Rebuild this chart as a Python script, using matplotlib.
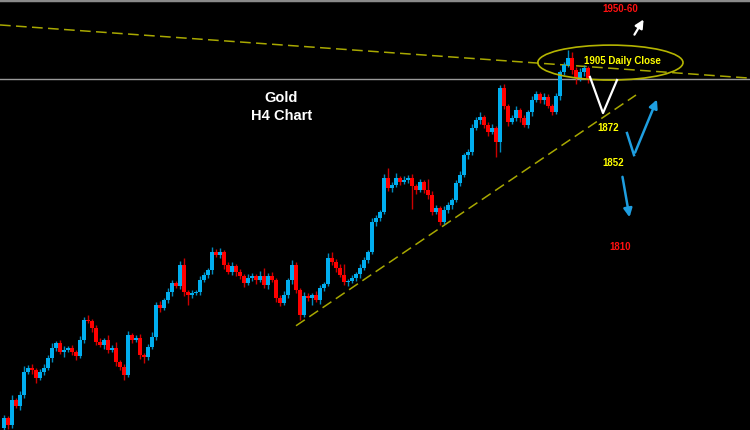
import matplotlib
matplotlib.use("Agg")
import matplotlib.pyplot as plt
from matplotlib.patches import Ellipse
import numpy as np

first_open = 1715.7
closes = [
    1720.9, 1717.3, 1730.3, 1727.2, 1732.9, 1744.9, 1746.9, 1745.9, 1741.8, 1744.9,
    1746.9, 1752.2, 1757.4, 1760.0, 1755.3, 1756.3, 1757.4, 1755.3, 1753.2, 1761.5,
    1772.0, 1771.5, 1767.8, 1760.5, 1759.0, 1761.5, 1756.3, 1757.4, 1750.1, 1747.5,
    1743.3, 1764.2, 1761.5, 1762.6, 1753.7, 1752.7, 1757.9, 1763.1, 1779.8, 1778.2,
    1782.4, 1786.6, 1791.2, 1789.7, 1800.6, 1786.6, 1785.0, 1786.0, 1786.8, 1792.8,
    1795.4, 1798.0, 1807.4, 1805.8, 1807.4, 1800.6, 1797.0, 1800.1, 1797.0, 1794.9,
    1791.2, 1793.9, 1794.9, 1792.8, 1794.9, 1790.2, 1794.9, 1792.8, 1783.4, 1780.8,
    1785.0, 1792.8, 1800.6, 1787.6, 1774.6, 1784.5, 1783.4, 1785.0, 1782.4, 1788.6,
    1790.7, 1804.3, 1802.2, 1799.1, 1795.4, 1791.8, 1792.3, 1793.9, 1795.9, 1799.1,
    1803.2, 1807.4, 1823.0, 1825.1, 1828.2, 1846.0, 1840.7, 1842.3, 1846.0, 1843.9,
    1844.9, 1846.0, 1841.8, 1839.7, 1843.9, 1839.7, 1837.1, 1828.2, 1830.3, 1823.0,
    1829.3, 1831.9, 1834.5, 1843.3, 1847.5, 1857.9, 1859.5, 1872.0, 1876.2, 1877.7,
    1873.6, 1869.9, 1872.0, 1864.7, 1892.8, 1883.5, 1875.1, 1877.2, 1881.4, 1877.2,
    1873.6, 1880.3, 1886.6, 1889.7, 1886.6, 1888.2, 1883.5, 1880.3, 1888.7, 1901.2,
    1904.8, 1908.5, 1902.2, 1898.0, 1901.2, 1903.3, 1897.0,
]
upper_wicks = [
    1.5, 1.0, 2.5, 1.0, 2.0, 3.0, 1.5, 2.0, 1.0, 1.5,
    2.0, 1.5, 2.5, 1.0, 1.5, 2.0, 1.0, 1.5, 1.0, 2.0,
    1.5, 2.5, 1.0, 1.5, 2.0, 1.0, 2.5, 1.5, 3.0, 1.0,
    1.5, 2.0, 1.0, 1.5, 2.0, 1.0, 1.5, 2.5, 1.5, 2.0,
    1.0, 2.0, 1.5, 1.0, 2.0, 3.5, 1.0, 1.5, 1.0, 2.0,
    1.5, 1.0, 2.5, 1.5, 2.0, 1.0, 1.5, 2.0, 1.0, 1.5,
    1.0, 2.0, 1.5, 1.0, 2.5, 4.0, 1.5, 2.0, 1.0, 1.5,
    2.0, 1.0, 2.5, 1.5, 1.0, 2.0, 1.5, 1.0, 2.0, 1.5,
    1.0, 2.5, 3.0, 1.5, 2.0, 6.0, 1.0, 1.5, 1.0, 2.0,
    1.5, 1.0, 2.0, 1.5, 1.0, 2.0, 5.0, 1.5, 2.5, 1.0,
    2.0, 1.5, 2.0, 1.0, 1.5, 1.0, 6.0, 2.0, 1.5, 1.0,
    2.0, 1.5, 1.0, 1.5, 2.0, 1.0, 1.5, 2.0, 1.5, 2.5,
    1.0, 1.5, 2.0, 1.0, 1.5, 2.0, 1.0, 1.5, 2.0, 1.0,
    1.5, 1.0, 2.0, 1.5, 1.0, 2.0, 1.5, 1.0, 1.5, 1.0,
    1.5, 4.0, 3.0, 1.5, 2.0, 1.5, 1.0,
]
lower_wicks = [
    1.0, 2.0, 1.5, 1.0, 2.0, 1.5, 1.0, 2.0, 2.5, 1.0,
    1.5, 1.0, 2.0, 1.5, 1.0, 2.5, 1.0, 1.5, 2.0, 1.0,
    1.5, 1.0, 2.0, 1.5, 1.0, 2.0, 1.5, 1.0, 2.0, 1.5,
    2.5, 1.0, 1.5, 1.0, 2.0, 3.0, 1.5, 1.0, 1.5, 2.0,
    1.0, 1.5, 2.0, 1.0, 1.5, 2.0, 5.0, 1.5, 1.0, 2.0,
    1.0, 1.5, 2.0, 1.0, 1.5, 2.0, 1.0, 1.5, 2.0, 1.5,
    2.0, 1.0, 1.5, 2.0, 1.0, 1.5, 2.0, 1.0, 2.0, 1.5,
    1.0, 1.5, 2.0, 1.5, 2.5, 1.0, 1.5, 3.5, 1.0, 2.0,
    1.5, 1.0, 1.5, 2.0, 1.0, 1.5, 2.0, 1.0, 1.5, 2.0,
    1.0, 1.5, 1.0, 2.0, 1.5, 1.0, 1.5, 2.0, 1.0, 1.5,
    1.0, 1.5, 12.0, 2.0, 1.0, 1.5, 2.0, 1.5, 1.0, 1.5,
    1.0, 1.5, 2.0, 1.0, 1.5, 1.0, 2.0, 1.5, 1.0, 2.0,
    1.5, 2.0, 1.0, 8.0, 5.0, 1.5, 2.0, 1.0, 1.5, 2.0,
    1.0, 1.5, 2.0, 1.0, 1.5, 2.0, 1.0, 1.5, 1.0, 2.0,
    1.5, 1.0, 2.0, 3.0, 1.5, 2.0, 1.5,
]

current_price = 1897.5
trend_up = ([73, 158], [1769.0, 1889.2])
trend_down = ([-1, 186.5], [1925.7, 1898.0])

UP = "#00AEEF"
DOWN = "#FF0000"
BG = "#000000"

opens = [first_open] + closes[:-1]
o = np.array(opens)
c = np.array(closes)
hi = np.maximum(o, c) + np.array(upper_wicks)
lo = np.minimum(o, c) - np.array(lower_wicks)
x = np.arange(len(c))
colors = [UP if cc >= oo else DOWN for oo, cc in zip(o, c)]

fig = plt.figure(figsize=(7.5, 4.3), dpi=100, facecolor=BG)
ax = fig.add_axes([0, 0, 1, 1], facecolor=BG)

ax.vlines(x, lo, hi, colors=colors, linewidth=1.0, alpha=0.8, zorder=3)
body_h = np.maximum(np.abs(c - o), 0.5)
ax.bar(x, body_h, bottom=np.minimum(o, c), width=0.8, color=colors,
       linewidth=0, zorder=4)

ax.axhline(current_price, color="#9a9a9a", linewidth=1.0, zorder=2)
ax.plot(*trend_down, color="#a8a800", linewidth=1.1, dashes=(7, 3.5), zorder=2)
ax.plot(*trend_up, color="#a8a800", linewidth=1.1, dashes=(7, 3.5), zorder=2)

ax.add_patch(Ellipse((151.6, 1906.1), 36.3, 18.2, fill=False,
                     edgecolor="#b4b400", linewidth=1.2, zorder=5))

bold = dict(fontweight="bold", family=["Liberation Sans", "DejaVu Sans"])
ax.text(154.5, 1906.9, "1905 Daily Close", color="#ffff00", fontsize=7,
        ha="center", va="center", zorder=6, **bold)
ax.text(154.0, 1934.0, "1950-60", color="#ff1010", fontsize=7,
        ha="center", va="center", **bold)
ax.text(151.0, 1872.0, "1872", color="#ffff00", fontsize=7,
        ha="center", va="center", **bold)
ax.text(152.3, 1853.8, "1852", color="#ffff00", fontsize=7,
        ha="center", va="center", **bold)
ax.text(154.0, 1810.0, "1810", color="#ff1010", fontsize=7,
        ha="center", va="center", **bold)
ax.text(69.3, 1887.6, "Gold", color="white", fontsize=10.5,
        ha="center", va="center", **bold)
ax.text(69.5, 1878.3, "H4 Chart", color="white", fontsize=10.5,
        ha="center", va="center", **bold)

# white projection
ax.plot([146.5, 149.75, 153.25], [1898.6, 1879.8, 1897.0], color="white",
        linewidth=1.6, zorder=6)
ax.annotate("", xy=(160.25, 1929.8), xytext=(157.25, 1919.4),
            arrowprops=dict(arrowstyle="-|>,head_length=0.5,head_width=0.25",
                            color="white", lw=1.6))
# blue projections
BLUE = "#1E9EE0"
ax.plot([155.75, 157.5], [1869.4, 1857.9], color=BLUE, linewidth=1.8, zorder=6)
ax.annotate("", xy=(163.5, 1888.2), xytext=(157.5, 1857.9),
            arrowprops=dict(arrowstyle="-|>,head_length=0.5,head_width=0.25",
                            color=BLUE, lw=1.8))
ax.annotate("", xy=(156.5, 1824.1), xytext=(154.5, 1848.0),
            arrowprops=dict(arrowstyle="-|>,head_length=0.5,head_width=0.25",
                            color=BLUE, lw=1.8))

ax.set_xlim(-1, 186.5)
ax.set_ylim(1714.7, 1938.7)
ax.set_xticks([])
ax.set_yticks([])
for side in ["left", "right", "bottom"]:
    ax.spines[side].set_visible(False)
ax.spines["top"].set_color("#8a8a8a")
ax.spines["top"].set_linewidth(2.5)

fig.savefig("out.png", dpi=100, facecolor=BG)
